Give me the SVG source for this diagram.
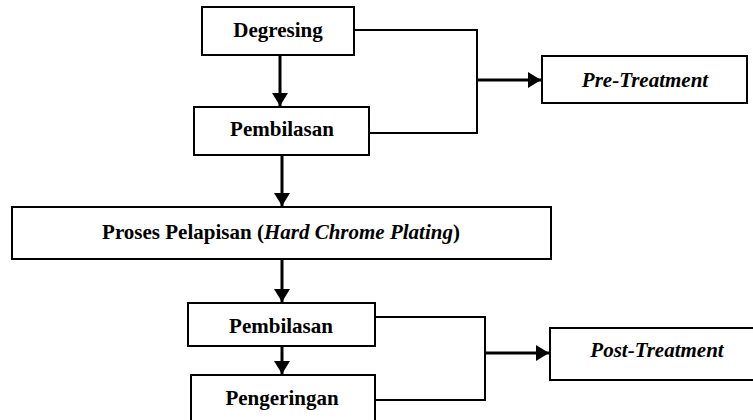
<svg xmlns="http://www.w3.org/2000/svg" width="753" height="420" viewBox="0 0 753 420">
<style>
.box{fill:#fff;stroke:#000;stroke-width:2}
.t{font-family:"Liberation Serif","Times New Roman",serif;font-size:21px;font-weight:bold;text-anchor:middle;fill:#000}
.i{font-style:italic}
.ln{fill:none;stroke:#000;stroke-width:2}
.ar{fill:none;stroke:#000;stroke-width:3}
</style>
<defs>
<marker id="ah" markerUnits="userSpaceOnUse" markerWidth="14" markerHeight="18" refX="13" refY="8" orient="auto">
<path d="M0,0 L13,8 L0,16 Z" fill="#000"/>
</marker>
</defs>
<rect width="753" height="420" fill="#fff"/>
<g id="connectors">
<line class="ar" x1="280" y1="55" x2="280" y2="106" marker-end="url(#ah)"/>
<line class="ar" x1="282" y1="155" x2="282" y2="206" marker-end="url(#ah)"/>
<line class="ar" x1="282" y1="259" x2="282" y2="302" marker-end="url(#ah)"/>
<line class="ar" x1="282" y1="346" x2="282" y2="374" marker-end="url(#ah)"/>
<polyline class="ln" points="354,30 477,30 477,133 369,133"/>
<line class="ar" x1="477" y1="80" x2="541" y2="80" marker-end="url(#ah)"/>
<polyline class="ln" points="375,317 485,317 485,400 375,400"/>
<line class="ar" x1="485" y1="353" x2="549" y2="353" marker-end="url(#ah)"/>
</g>
<g id="degresing">
<rect class="box" x="202" y="7" width="152" height="48"/>
<text class="t" x="278" y="37">Degresing</text>
</g>
<g id="pembilasan1">
<rect class="box" x="194" y="107" width="175" height="48"/>
<text class="t" x="282" y="136">Pembilasan</text>
</g>
<g id="pretreatment">
<rect class="box" x="542" y="56" width="205" height="47"/>
<text class="t i" x="645" y="87">Pre-Treatment</text>
</g>
<g id="proses">
<rect class="box" x="12" y="207" width="539" height="52"/>
<text class="t" x="281" y="239">Proses Pelapisan (<tspan class="i">Hard Chrome Plating</tspan>)</text>
</g>
<g id="pembilasan2">
<rect class="box" x="188" y="303" width="187" height="43"/>
<text class="t" x="281" y="333">Pembilasan</text>
</g>
<g id="pengeringan">
<rect class="box" x="191" y="375" width="184" height="47"/>
<text class="t" x="282" y="405">Pengeringan</text>
</g>
<g id="posttreatment">
<rect class="box" x="550" y="328" width="206" height="52"/>
<text class="t i" x="657" y="357">Post-Treatment</text>
</g>
</svg>
